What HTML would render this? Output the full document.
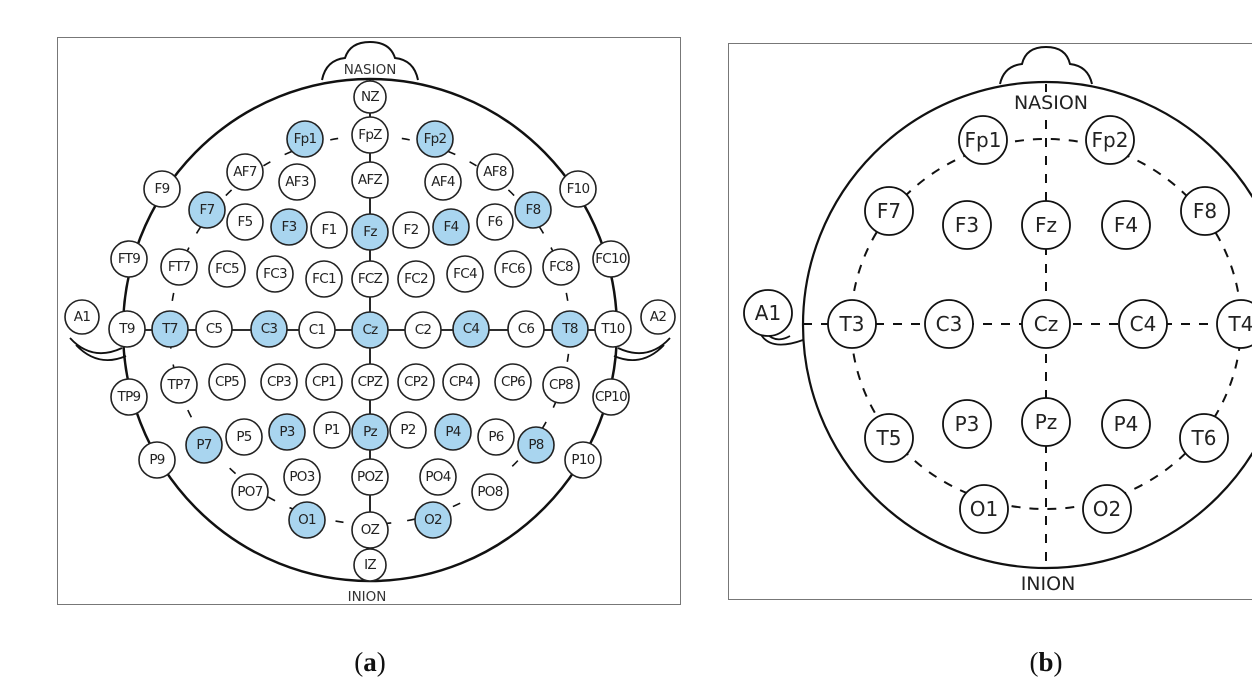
<!DOCTYPE html>
<html><head><meta charset="utf-8"><style>
html,body{margin:0;padding:0;background:#fff;}
svg{display:block;}
.a text{font-family:"DejaVu Sans","Liberation Sans",sans-serif;font-size:13.5px;fill:#222;text-anchor:middle;dominant-baseline:central;letter-spacing:-0.7px;}
.b text{font-family:"DejaVu Sans","Liberation Sans",sans-serif;font-size:20px;fill:#222;text-anchor:middle;dominant-baseline:central;}
.cap{font-family:"Liberation Serif",serif;font-size:27px;fill:#111;text-anchor:middle;}
</style></head><body>
<svg width="1252" height="691" viewBox="0 0 1252 691" xmlns="http://www.w3.org/2000/svg">
<rect x="57.5" y="37.5" width="623" height="567" fill="#fff" stroke="#777" stroke-width="1"/>
<rect x="728.5" y="43.5" width="540" height="556" fill="#fff" stroke="#777" stroke-width="1"/>

<!-- Panel A -->
<g class="a" stroke="#111" fill="none">
<path d="M322,80 Q326,60 345,58 Q350,42 370,42 Q390,42 395,58 Q414,60 418,80" stroke-width="2"/>
<ellipse cx="370" cy="330" rx="247" ry="251" stroke-width="2.5"/>
<ellipse cx="370" cy="330" rx="200" ry="194" stroke-width="1.6" stroke-dasharray="8,16"/>
<line x1="370" y1="80" x2="370" y2="565" stroke-width="1.8"/>
<line x1="127" y1="330" x2="613" y2="330" stroke-width="1.8"/>
<path d="M70,338 Q92,362 122,348 M76,345 Q98,368 126,356" stroke-width="1.8"/>
<path d="M670,338 Q648,362 618,348 M664,345 Q642,368 614,356" stroke-width="1.8"/>
<text x="370" y="70" stroke="none" style="font-size:13.5px;fill:#333;letter-spacing:0">NASION</text>
<text x="367" y="597" stroke="none" style="font-size:13.5px;fill:#333;letter-spacing:0">INION</text>
</g>
<g class="a" stroke="#222" stroke-width="1.6">
<g fill="#fff">
<circle cx="370" cy="97" r="16"/><circle cx="370" cy="135" r="18"/><circle cx="245" cy="172" r="18"/><circle cx="297" cy="182" r="18"/><circle cx="370" cy="180" r="18"/><circle cx="162" cy="189" r="18"/><circle cx="245" cy="222" r="18"/><circle cx="329" cy="230" r="18"/><circle cx="129" cy="259" r="18"/><circle cx="179" cy="267" r="18"/><circle cx="227" cy="269" r="18"/><circle cx="275" cy="274" r="18"/><circle cx="324" cy="279" r="18"/><circle cx="370" cy="279" r="18"/><circle cx="82" cy="317" r="17"/><circle cx="127" cy="329" r="18"/><circle cx="214" cy="329" r="18"/><circle cx="317" cy="330" r="18"/><circle cx="129" cy="397" r="18"/><circle cx="179" cy="385" r="18"/><circle cx="227" cy="382" r="18"/><circle cx="279" cy="382" r="18"/><circle cx="324" cy="382" r="18"/><circle cx="370" cy="382" r="18"/><circle cx="157" cy="460" r="18"/><circle cx="244" cy="437" r="18"/><circle cx="332" cy="430" r="18"/><circle cx="250" cy="492" r="18"/><circle cx="302" cy="477" r="18"/><circle cx="370" cy="477" r="18"/><circle cx="370" cy="530" r="18"/><circle cx="370" cy="565" r="16"/>
<circle cx="495" cy="172" r="18"/><circle cx="443" cy="182" r="18"/><circle cx="578" cy="189" r="18"/><circle cx="495" cy="222" r="18"/><circle cx="411" cy="230" r="18"/><circle cx="611" cy="259" r="18"/><circle cx="561" cy="267" r="18"/><circle cx="513" cy="269" r="18"/><circle cx="465" cy="274" r="18"/><circle cx="416" cy="279" r="18"/><circle cx="658" cy="317" r="17"/><circle cx="613" cy="329" r="18"/><circle cx="526" cy="329" r="18"/><circle cx="423" cy="330" r="18"/><circle cx="611" cy="397" r="18"/><circle cx="561" cy="385" r="18"/><circle cx="513" cy="382" r="18"/><circle cx="461" cy="382" r="18"/><circle cx="416" cy="382" r="18"/><circle cx="583" cy="460" r="18"/><circle cx="496" cy="437" r="18"/><circle cx="408" cy="430" r="18"/><circle cx="490" cy="492" r="18"/><circle cx="438" cy="477" r="18"/>
</g>
<g fill="#a9d5ef">
<circle cx="305" cy="139" r="18"/><circle cx="435" cy="139" r="18"/><circle cx="207" cy="210" r="18"/><circle cx="533" cy="210" r="18"/><circle cx="289" cy="227" r="18"/><circle cx="370" cy="232" r="18"/><circle cx="451" cy="227" r="18"/><circle cx="170" cy="329" r="18"/><circle cx="269" cy="329" r="18"/><circle cx="370" cy="330" r="18"/><circle cx="471" cy="329" r="18"/><circle cx="570" cy="329" r="18"/><circle cx="204" cy="445" r="18"/><circle cx="287" cy="432" r="18"/><circle cx="370" cy="432" r="18"/><circle cx="453" cy="432" r="18"/><circle cx="536" cy="445" r="18"/><circle cx="307" cy="520" r="18"/><circle cx="433" cy="520" r="18"/>
</g>
<g stroke="none">
<text x="370" y="97">NZ</text><text x="370" y="135">FpZ</text><text x="245" y="172">AF7</text><text x="297" y="182">AF3</text><text x="370" y="180">AFZ</text><text x="162" y="189">F9</text><text x="245" y="222">F5</text><text x="329" y="230">F1</text><text x="129" y="259">FT9</text><text x="179" y="267">FT7</text><text x="227" y="269">FC5</text><text x="275" y="274">FC3</text><text x="324" y="279">FC1</text><text x="370" y="279">FCZ</text><text x="82" y="317">A1</text><text x="127" y="329">T9</text><text x="214" y="329">C5</text><text x="317" y="330">C1</text><text x="129" y="397">TP9</text><text x="179" y="385">TP7</text><text x="227" y="382">CP5</text><text x="279" y="382">CP3</text><text x="324" y="382">CP1</text><text x="370" y="382">CPZ</text><text x="157" y="460">P9</text><text x="244" y="437">P5</text><text x="332" y="430">P1</text><text x="250" y="492">PO7</text><text x="302" y="477">PO3</text><text x="370" y="477">POZ</text><text x="370" y="530">OZ</text><text x="370" y="565">IZ</text>
<text x="495" y="172">AF8</text><text x="443" y="182">AF4</text><text x="578" y="189">F10</text><text x="495" y="222">F6</text><text x="411" y="230">F2</text><text x="611" y="259">FC10</text><text x="561" y="267">FC8</text><text x="513" y="269">FC6</text><text x="465" y="274">FC4</text><text x="416" y="279">FC2</text><text x="658" y="317">A2</text><text x="613" y="329">T10</text><text x="526" y="329">C6</text><text x="423" y="330">C2</text><text x="611" y="397">CP10</text><text x="561" y="385">CP8</text><text x="513" y="382">CP6</text><text x="461" y="382">CP4</text><text x="416" y="382">CP2</text><text x="583" y="460">P10</text><text x="496" y="437">P6</text><text x="408" y="430">P2</text><text x="490" y="492">PO8</text><text x="438" y="477">PO4</text>
<g style="fill:#2a5f8a">
<text x="305" y="139">Fp1</text><text x="435" y="139">Fp2</text><text x="207" y="210">F7</text><text x="533" y="210">F8</text><text x="289" y="227">F3</text><text x="370" y="232">Fz</text><text x="451" y="227">F4</text><text x="170" y="329">T7</text><text x="269" y="329">C3</text><text x="370" y="330">Cz</text><text x="471" y="329">C4</text><text x="570" y="329">T8</text><text x="204" y="445">P7</text><text x="287" y="432">P3</text><text x="370" y="432">Pz</text><text x="453" y="432">P4</text><text x="536" y="445">P8</text><text x="307" y="520">O1</text><text x="433" y="520">O2</text>
</g>
</g>
</g>

<!-- Panel B -->
<g class="b" stroke="#111" fill="none">
<path d="M1000,84 Q1004,66 1022,64 Q1026,47 1046,47 Q1066,47 1070,64 Q1088,66 1092,84" stroke-width="2"/>
<circle cx="1046" cy="325" r="243" stroke-width="2.2"/>
<ellipse cx="1046" cy="324" rx="195" ry="185" stroke-width="2" stroke-dasharray="9,9"/>
<line x1="1046" y1="84" x2="1046" y2="567" stroke-width="2" stroke-dasharray="9,9"/>
<line x1="803" y1="324" x2="1290" y2="324" stroke-width="2" stroke-dasharray="9,9"/>
<path d="M760,333 Q770,352 803,340 M766,333 Q776,344 790,336" stroke-width="1.8"/>
</g>
<g class="b" stroke="#111" stroke-width="1.8">
<rect x="1025" y="92" width="42" height="22" fill="#fff" stroke="none"/>
<g fill="#fff">
<ellipse cx="983" cy="140" rx="24" ry="24"/><ellipse cx="1110" cy="140" rx="24" ry="24"/><ellipse cx="889" cy="211" rx="24" ry="24"/><ellipse cx="967" cy="225" rx="24" ry="24"/><ellipse cx="1046" cy="225" rx="24" ry="24"/><ellipse cx="1126" cy="225" rx="24" ry="24"/><ellipse cx="1205" cy="211" rx="24" ry="24"/><ellipse cx="768" cy="313" rx="24" ry="23"/><ellipse cx="852" cy="324" rx="24" ry="24"/><ellipse cx="949" cy="324" rx="24" ry="24"/><ellipse cx="1046" cy="324" rx="24" ry="24"/><ellipse cx="1143" cy="324" rx="24" ry="24"/><ellipse cx="1241" cy="324" rx="24" ry="24"/><ellipse cx="889" cy="438" rx="24" ry="24"/><ellipse cx="967" cy="424" rx="24" ry="24"/><ellipse cx="1046" cy="422" rx="24" ry="24"/><ellipse cx="1126" cy="424" rx="24" ry="24"/><ellipse cx="1204" cy="438" rx="24" ry="24"/><ellipse cx="984" cy="509" rx="24" ry="24"/><ellipse cx="1107" cy="509" rx="24" ry="24"/>
</g>
<g stroke="none">
<text x="983" y="140">Fp1</text><text x="1110" y="140">Fp2</text><text x="889" y="211">F7</text><text x="967" y="225">F3</text><text x="1046" y="225">Fz</text><text x="1126" y="225">F4</text><text x="1205" y="211">F8</text><text x="768" y="313">A1</text><text x="852" y="324">T3</text><text x="949" y="324">C3</text><text x="1046" y="324">Cz</text><text x="1143" y="324">C4</text><text x="1241" y="324">T4</text><text x="889" y="438">T5</text><text x="967" y="424">P3</text><text x="1046" y="422">Pz</text><text x="1126" y="424">P4</text><text x="1204" y="438">T6</text><text x="984" y="509">O1</text><text x="1107" y="509">O2</text>
<text x="1051" y="103" style="font-size:19px">NASION</text>
<text x="1048" y="584" style="font-size:19px">INION</text>
</g>
</g>

<text class="cap" x="370" y="671">(<tspan font-weight="bold">a</tspan>)</text>
<text class="cap" x="1046" y="671">(<tspan font-weight="bold">b</tspan>)</text>
</svg>
</body></html>
